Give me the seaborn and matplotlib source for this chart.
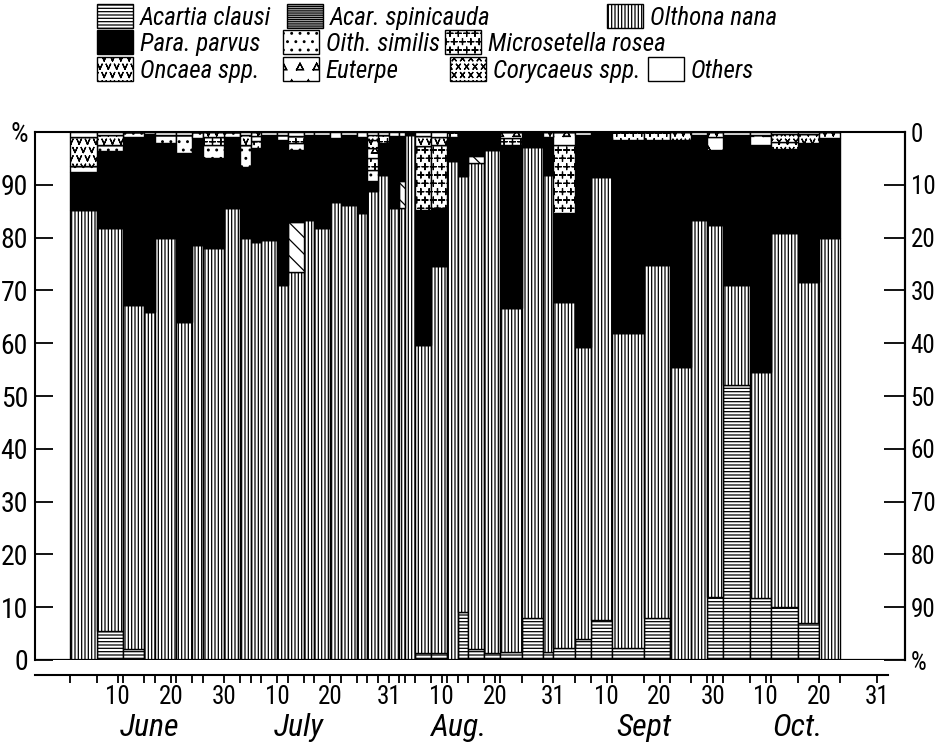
import warnings
warnings.filterwarnings("ignore")
import numpy as np
import pandas as pd
import matplotlib
matplotlib.use("Agg")
import matplotlib.pyplot as plt
import matplotlib.hatch as mhatch
import matplotlib.patches as mpatches
from matplotlib.path import Path
from matplotlib import font_manager as fm
import seaborn as sns

# ------------------------------------------------------------------ data
# start date of each sampling interval (month-day); bars run to the next date
sample_dates = ["06-01", "06-06", "06-11", "06-15", "06-17", "06-21", "06-24", "06-26",
                "06-30", "07-03", "07-05", "07-07", "07-10", "07-12", "07-15", "07-17",
                "07-20", "07-22", "07-25", "07-27", "07-29", "07-31", "08-02", "08-03",
                "08-05", "08-08", "08-11", "08-13", "08-15", "08-18", "08-21", "08-25",
                "08-29", "08-31", "09-04", "09-07", "09-11", "09-17", "09-22", "09-26",
                "09-29", "10-02", "10-07", "10-11", "10-16", "10-20"]
end_date = "10-24"

acartia_clausi = [0, 5.5, 2, 0, 0, 0, 0, 0, 0, 0, 0, 0, 0, 0, 0, 0,
                  0, 0, 0, 0, 0, 0, 0, 0, 1.3, 1.3, 0, 9, 2, 1.4, 1.5, 8,
                  1.5, 2.3, 4, 7.6, 2.3, 8, 0, 0, 12, 52, 11.8, 10, 7, 0]
olthona_nana = [85.2, 76.3, 65.2, 65.9, 79.9, 64.0, 78.6, 78.0, 85.6, 80.0, 79.2, 79.5,
                71.0, 73.5, 83.3, 81.8, 86.7, 86.2, 84.7, 88.8, 91.9, 85.6, 85.6, 99.4,
                58.4, 73.3, 94.5, 82.7, 92.1, 95.2, 65.2, 89.2, 90.4, 65.5, 55.3, 83.9,
                59.7, 66.8, 55.5, 83.3, 70.4, 19.0, 42.7, 70.9, 64.6, 80.0]
unlabelled_hatched = [0, 0, 0, 0, 0, 0, 0, 0, 0, 0, 0, 0, 0, 9.5, 0, 0,
                      0, 0, 0, 0, 0, 0, 5.1, 0, 0, 0, 0, 0, 1.4, 0, 0, 0,
                      0, 0, 0, 0, 0, 0, 0, 0, 0, 0, 0, 0, 0, 0]
para_parvus = [7.2, 14.6, 31.8, 33.7, 18.0, 32.0, 20.3, 17.0, 13.4, 13.4, 17.8, 20.0,
               27.5, 13.6, 16.2, 17.7, 12.2, 13.3, 14.3, 1.9, 6.0, 13.7, 8.6, 0.6,
               25.5, 11.0, 4.5, 8.3, 4.5, 3.4, 30.8, 2.8, 7.1, 16.9, 40.2, 8.5,
               36.5, 23.7, 43.0, 16.2, 14.2, 28.5, 43.0, 15.9, 26.4, 18.8]
oith_similis = [1.2, 1.1, 1.0, 0, 1.5, 3.5, 1.1, 2.5, 1.0, 4.1, 0, 0, 1.0, 1.4, 0, 0,
                0, 0, 0, 2.1, 0, 0, 0, 0, 0, 0, 0, 0, 0, 0, 0, 0,
                0, 0, 0, 0, 0, 0, 0, 0, 0, 0, 0, 0, 0, 0]
microsetella_rosea = [0, 0, 0, 0, 0, 0, 0, 1.5, 0, 0, 1.3, 0, 0, 1.3, 0, 0,
                      0, 0, 0, 2.2, 1.6, 0, 0, 0, 12.1, 11.9, 1.0, 0, 0, 0, 1.3, 0,
                      0, 12.8, 0, 0, 1.5, 1.5, 0, 0, 0, 0, 0, 0, 0, 0]
euterpe = [0, 0, 0, 0, 0, 0, 0, 0, 0, 0, 1.0, 0, 0, 0, 0, 0,
           0, 0, 0, 2.0, 0, 0, 0, 0, 0, 0, 0, 0, 0, 0, 1.2, 0,
           0, 2.5, 0, 0, 0, 0, 0, 0, 2.4, 0, 2.0, 0, 0, 0]
oncaea_spp = [5.4, 1.9, 0, 0, 0, 0, 0, 1.0, 0, 2.0, 0.7, 0, 0, 0, 0, 0,
              0, 0, 0, 1.5, 0, 0, 0, 0, 1.9, 1.5, 0, 0, 0, 0, 0, 0,
              1.0, 0, 0, 0, 0, 0, 1.5, 0, 1.0, 0, 0, 1.4, 1.6, 1.2]
corycaeus_spp = [0, 0, 0, 0, 0, 0, 0, 0, 0, 0, 0, 0, 0, 0, 0, 0,
                 0, 0, 0, 1.0, 0, 0, 0, 0, 0, 0, 0, 0, 0, 0, 0, 0,
                 0, 0, 0, 0, 0, 0, 0, 0, 0, 0, 0, 1.4, 0, 0]
others = [1.0, 0.6, 0, 0.4, 0.6, 0.5, 0, 0, 0, 0.5, 0, 0.5, 0.5, 0.7, 0.5, 0.5,
          1.1, 0.5, 1.0, 0.5, 0.5, 0.7, 0.7, 0, 0.8, 1.0, 0, 0, 0, 0, 0, 0,
          0, 0, 0.5, 0, 0, 0, 0, 0.5, 0, 0.5, 0.5, 0.4, 0.4, 0]

# axis annotation text
date_tick_dates = ["06-10", "06-20", "06-30", "07-10", "07-20", "07-31", "08-10", "08-20",
                   "08-31", "09-10", "09-20", "09-30", "10-10", "10-20", "10-31"]
date_tick_labels = ["10", "20", "30", "10", "20", "31", "10", "20", "31",
                    "10", "20", "30", "10", "20", "31"]
month_names = ["June", "July", "Aug.", "Sept", "Oct."]
month_label_dates = ["06-16", "07-14", "08-13", "09-17", "10-16"]
left_tick_labels = ["0", "10", "20", "30", "40", "50", "60", "70", "80", "90", "%"]
right_tick_labels = ["0", "10", "20", "30", "40", "50", "60", "70", "80", "90", "%"]

# ------------------------------------------------------------------ custom glyph hatches
M_, L_ = Path.MOVETO, Path.LINETO


class _Glyph(mhatch.Shapes):
    filled = False
    size = 0.55
    key = "?"
    glyph = None

    def __init__(self, hatch, density):
        self.num_rows = int(hatch.count(self.key) * density)
        self.shape_vertices = np.array(self.glyph[0], float)
        self.shape_codes = np.array(self.glyph[1], dtype=Path.code_type)
        super().__init__(hatch, density)


class _VGlyph(_Glyph):
    key = "v"
    size = 0.6
    glyph = ([(-.45, .5), (0, -.5), (0, -.5), (.45, .5)], [M_, L_, M_, L_])


class _PlusGlyph(_Glyph):
    key = "p"
    size = 0.7
    glyph = ([(-.5, 0), (.5, 0), (0, -.5), (0, .5)], [M_, L_, M_, L_])


class _XGlyph(_Glyph):
    key = "k"
    size = 0.6
    glyph = ([(-.4, -.5), (.4, .5), (-.4, .5), (.4, -.5)], [M_, L_, M_, L_])


class _TriGlyph(_Glyph):
    key = "t"
    size = 0.42
    glyph = ([(-.5, -.45), (0, .5), (.5, -.45), (-.5, -.45)], [M_, L_, L_, L_])


mhatch._hatch_types.extend([_VGlyph, _PlusGlyph, _XGlyph, _TriGlyph])

# ------------------------------------------------------------------ style
sns.set_style("ticks")
ents = fm.fontManager.ttflist


def _has(name, stretch=None):
    return any(e.name == name and (stretch is None or e.stretch == stretch) for e in ents)


FAM, STRETCH = "DejaVu Sans", "normal"
for nm, st in [("Liberation Sans Narrow", None), ("Roboto Condensed", None),
               ("DejaVu Sans", "condensed"), ("Noto Sans", "condensed"),
               ("Open Sans", "condensed"), ("Noto Sans", "semi-condensed")]:
    if _has(nm, st):
        FAM, STRETCH = nm, (st or "condensed")
        break

plt.rcParams["font.family"] = [FAM, "DejaVu Sans"]
plt.rcParams["font.stretch"] = STRETCH
plt.rcParams["hatch.linewidth"] = 0.9
plt.rcParams["axes.edgecolor"] = "black"
plt.rcParams["xtick.color"] = "black"
plt.rcParams["ytick.color"] = "black"
plt.rcParams["text.color"] = "black"

# ------------------------------------------------------------------ tidy data
def to_day(md):
    return (pd.Timestamp("1950-" + md) - pd.Timestamp("1950-06-01")).days


starts = [float(to_day(d)) for d in sample_dates]
edges = starts + [float(to_day(end_date))]

series = {
    "Acartia clausi": acartia_clausi,
    "Olthona nana": olthona_nana,
    "unlabelled": unlabelled_hatched,
    "Para. parvus": para_parvus,
    "Oith. similis": oith_similis,
    "Microsetella rosea": microsetella_rosea,
    "Euterpe": euterpe,
    "Oncaea spp.": oncaea_spp,
    "Corycaeus spp.": corycaeus_spp,
    "Others": others,
}
rows = []
for sp, vals in series.items():
    for s, v in zip(starts, vals):
        rows.append({"day": s + 0.5, "species": sp, "pct": v})
df = pd.DataFrame(rows)

# stacking order, listed top -> bottom (seaborn stacks the first level on top)
stack_order = ["Others", "Corycaeus spp.", "Oncaea spp.", "Euterpe", "Microsetella rosea",
               "Oith. similis", "Para. parvus", "unlabelled", "Olthona nana", "Acartia clausi"]

face = {k: "white" for k in list(series) + ["Acar. spinicauda"]}
face["Para. parvus"] = "black"
hatch = {
    "Acartia clausi": "-----",
    "Acar. spinicauda": "---------",
    "Olthona nana": "|||||",
    "Para. parvus": None,
    "Oith. similis": "..",
    "Microsetella rosea": "pp",
    "Oncaea spp.": "vv",
    "Euterpe": "t",
    "Corycaeus spp.": "kk",
    "Others": None,
    "unlabelled": "\\\\",
}

# ------------------------------------------------------------------ figure
W, H = 938, 745
fig = plt.figure(figsize=(W / 100, H / 100), dpi=100)
ax = fig.add_axes([35 / W, 1 - 660 / H, (905 - 35) / W, (660 - 132) / H])

sns.histplot(data=df, x="day", weights="pct", hue="species", hue_order=stack_order,
             multiple="stack", bins=edges, element="bars", fill=True, shrink=1,
             palette={k: face[k] for k in stack_order}, edgecolor="black",
             linewidth=1.0, alpha=1, legend=False, ax=ax)

for cont, sp in zip(ax.containers, stack_order[::-1]):
    for bar in cont:
        bar.set_facecolor(face[sp])
        bar.set_edgecolor("black")
        if hatch[sp]:
            bar.set_hatch(hatch[sp])

ax.set_xlim(-6.6, 157.2)
ax.set_ylim(0, 100)
ax.set_xlabel("")
ax.set_ylabel("")

# left percentage axis
ax.set_yticks(np.arange(0, 101, 10))
ax.set_yticklabels(left_tick_labels)
ax.tick_params(axis="y", which="both", direction="in", length=13, width=1.3,
               labelsize=20, pad=5, left=True, right=False)

# date axis (offset below the frame)
ax.spines["bottom"].set_position(("outward", 11))
ax.spines["bottom"].set_bounds(-6.6, 154)
ax.set_xticks([to_day(d) for d in date_tick_dates])
ax.set_xticklabels(date_tick_labels)
ax.set_xticks(edges, minor=True)
ax.tick_params(axis="x", which="both", direction="out", length=6, width=1.3,
               labelsize=18, pad=1, top=False)
for sp_ in ["left", "top", "right", "bottom"]:
    ax.spines[sp_].set_linewidth(1.5)
ax.axhline(0, color="black", lw=1.6, zorder=6)

for name, md in zip(month_names, month_label_dates):
    ax.text(to_day(md), -0.127, name, transform=ax.get_xaxis_transform(),
            ha="center", va="center", fontsize=23, style="italic")

# right percentage axis (reversed)
ax2 = ax.twinx()
ax2.set_ylim(100, 0)
ax2.set_yticks(np.arange(0, 101, 10))
ax2.set_yticklabels(right_tick_labels)
ax2.tick_params(axis="y", direction="in", length=15, width=1.3, labelsize=18, pad=4,
                right=True, left=False)
for sp_ in ["left", "top", "bottom"]:
    ax2.spines[sp_].set_visible(False)
ax2.spines["right"].set_linewidth(1.5)

# ------------------------------------------------------------------ legend (3 rows)
legend_rows = [
    ["Acartia clausi", "Acar. spinicauda", "Olthona nana"],
    ["Para. parvus", "Oith. similis", "Microsetella rosea"],
    ["Oncaea spp.", "Euterpe", "Corycaeus spp.", "Others"],
]
legend_x = [[97, 287, 607], [97, 283, 445], [97, 283, 450, 648]]
legend_y = [17, 43, 70]
for labels, xs, y in zip(legend_rows, legend_x, legend_y):
    for lab, x in zip(labels, xs):
        h = mpatches.Patch(facecolor=face[lab], edgecolor="black", linewidth=1.0,
                           hatch=hatch[lab])
        fig.legend(handles=[h], labels=[lab], loc="center left",
                   bbox_to_anchor=(x / W, 1 - y / H), frameon=False,
                   prop={"size": 18, "style": "italic"}, handlelength=1.45,
                   handleheight=1.05, handletextpad=0.25, borderpad=0,
                   borderaxespad=0)

fig.savefig("out.png", dpi=100)
